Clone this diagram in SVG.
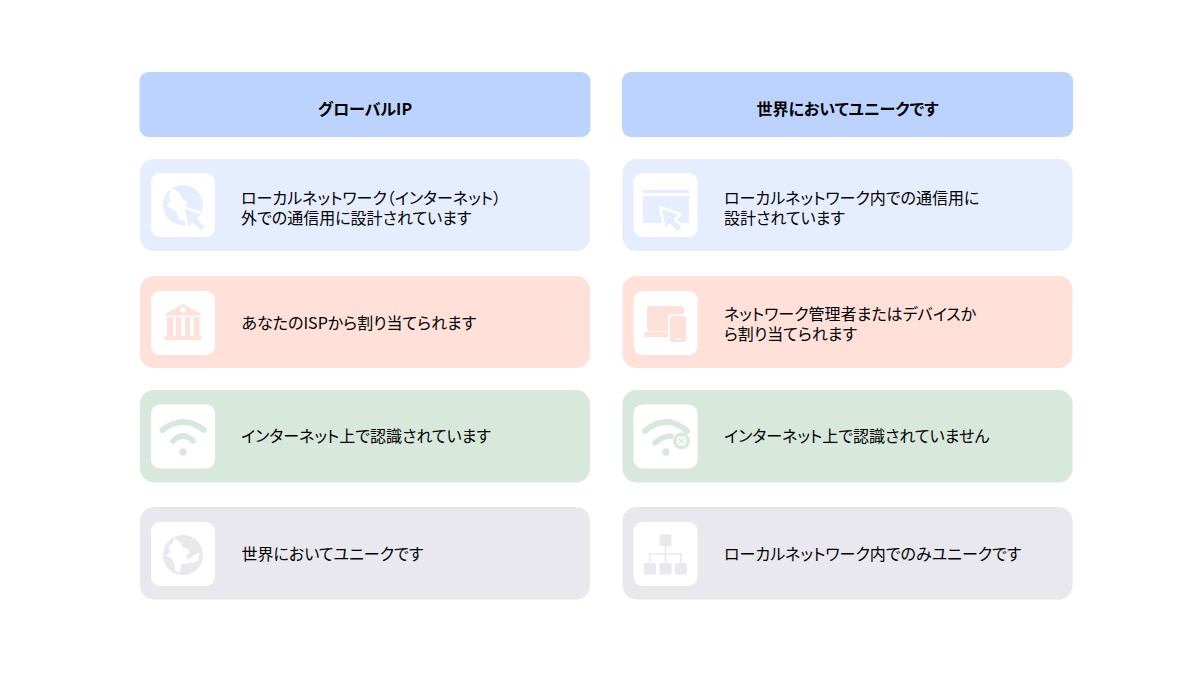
<svg xmlns="http://www.w3.org/2000/svg" width="1200" height="676" viewBox="0 0 1200 676">
<style>
text{font-family:"Noto Sans CJK JP","Noto Sans",sans-serif;fill:#000;font-feature-settings:"palt"}
.t{font-size:16px}
.h{font-size:16px;font-weight:700;text-anchor:middle}
.hb{fill:#bbd3fe}
.w{fill:#fff}
.b{fill:#e6edfe}.r{fill:#ffe1d9}.g{fill:#d9e8dd}.y{fill:#e8e8ee}
.arc{fill:none;stroke:#d9e8dd;stroke-linecap:round}
.cur{fill:#e6edfe;stroke:#fff;stroke-width:2.500;stroke-linejoin:round}
</style>
<rect width="1200" height="676" fill="#fff"/>
<g id="header-global"><rect class="hb" x="139.500" y="72" width="451" height="65" rx="9"/><text class="h" x="365" y="114.500">グローバルIP</text></g>
<g id="header-private"><rect class="hb" x="622" y="72" width="451" height="65" rx="9"/><text class="h" x="847.500" y="114.500">世界においてユニークです</text></g>

<g id="g1"><rect class="b" x="140" y="159" width="450" height="92" rx="14"/><rect class="w" x="151" y="173" width="64" height="64" rx="9"/>
<circle class="b" cx="183" cy="205" r="20"/>
<path class="w" transform="translate(158 180) scale(.3333)" d="M42 24L62 36L72 54L88 68L82 85L92 100L84 124L62 118L56 96L42 88L26 76L38 62L32 46Z"/>
<path class="cur" d="M183 207l21 7-6 4.500 8 8.500-5 5.500-8.500-8.500-4.500 6z"/>
<text class="t"><tspan x="241" y="204">ローカルネットワーク（インターネット）</tspan><tspan x="241" y="224">外での通信用に設計されています</tspan></text></g>

<g id="p1"><rect class="b" x="622.500" y="159" width="450" height="92" rx="14"/><rect class="w" x="633.500" y="173" width="64" height="64" rx="9"/>
<rect class="b" x="643" y="190" width="46" height="3"/>
<rect class="b" x="643" y="196" width="46" height="27"/>
<path class="cur" d="M660 207l21 7.500-6 4.500 8 8.500-5.500 5.500-8-8.500-4.500 6z"/>
<text class="t"><tspan x="724" y="204">ローカルネットワーク内での通信用に</tspan><tspan x="724" y="224">設計されています</tspan></text></g>

<g id="g2"><rect class="r" x="140" y="276" width="450" height="92" rx="14"/><rect class="w" x="151" y="291" width="64" height="64" rx="9"/>
<path class="r" d="M183 304l18 10v1.500h-36v-1.500zM167 317h6v19h-6zM176 317h5v19h-5zM185 317h5v19h-5zM193.500 317h6v19h-6z"/>
<rect class="r" x="164" y="336" width="38" height="4" rx="2"/>
<circle class="w" cx="183" cy="310" r="2.800"/>
<text class="t" x="241.500" y="329">あなたのISPから割り当てられます</text></g>

<g id="p2"><rect class="r" x="622.500" y="276" width="450" height="92" rx="14"/><rect class="w" x="633.500" y="291" width="64" height="64" rx="9"/>
<rect class="r" x="647" y="306" width="37" height="25" rx="3"/><rect class="r" x="644" y="332" width="26" height="5" rx="2.500"/>
<rect class="w" x="668" y="314" width="20" height="30" rx="4"/><rect class="r" x="670" y="316" width="16" height="26" rx="3"/><rect class="w" x="675" y="338" width="6" height="1.500"/>
<text class="t"><tspan x="724" y="319.500">ネットワーク管理者またはデバイスか</tspan><tspan x="724" y="339.500">ら割り当てられます</tspan></text></g>

<g id="g3"><rect class="g" x="140" y="390" width="450" height="92.500" rx="14"/><rect class="w" x="151" y="404.500" width="64" height="64" rx="9"/>
<path class="arc" stroke-width="6" d="M162.500 430Q183 414 204 430"/><path class="arc" stroke-width="5.500" d="M173 441Q183 431 193 441"/>
<circle class="g" cx="183" cy="452" r="3.700"/>
<text class="t" x="241" y="442">インターネット上で認識されています</text></g>

<g id="p3"><rect class="g" x="622.500" y="390" width="450" height="92.500" rx="14"/><rect class="w" x="633.500" y="404.500" width="64" height="64" rx="9"/>
<path class="arc" stroke-width="6" d="M645 431Q666 413 687 431"/><path class="arc" stroke-width="5.500" d="M655 443Q662 436 671 436"/>
<circle class="g" cx="666" cy="452" r="3.700"/>
<circle class="g" cx="681.500" cy="441" r="8.500"/><rect class="w" x="677" y="436.500" width="9" height="9" rx="2"/>
<path d="M678.500 438l6 6m0-6l-6 6" stroke="#d9e8dd" stroke-width="1.500"/>
<text class="t" x="724" y="442">インターネット上で認識されていません</text></g>

<g id="g4"><rect class="y" x="140" y="507" width="450" height="92.500" rx="14"/><rect class="w" x="151" y="522" width="64" height="64" rx="9"/>
<circle class="y" cx="183" cy="555" r="20"/>
<path class="w" transform="translate(158 530) scale(.3333)" d="M50 24L68 38L74 52L90 56L96 68L84 78L90 90L108 74L126 68L120 92L100 98L80 102L70 100L66 128L52 124L50 102L40 84L24 78L36 65L32 52L42 42Z"/>
<text class="t" x="241.500" y="560">世界においてユニークです</text></g>

<g id="p4"><rect class="y" x="622.500" y="507" width="450" height="92.500" rx="14"/><rect class="w" x="633.500" y="522" width="64" height="64" rx="9"/>
<rect class="y" x="659.500" y="534.500" width="12" height="11.500" rx="1.500"/>
<rect class="y" x="644" y="563" width="12" height="11.500" rx="1.500"/><rect class="y" x="659.500" y="563" width="12" height="11.500" rx="1.500"/><rect class="y" x="675" y="563" width="12" height="11.500" rx="1.500"/>
<path d="M665.500 546v17M650 563v-9h31v9" fill="none" stroke="#e8e8ee" stroke-width="1.500"/>
<text class="t" x="724" y="560">ローカルネットワーク内でのみユニークです</text></g>
</svg>
